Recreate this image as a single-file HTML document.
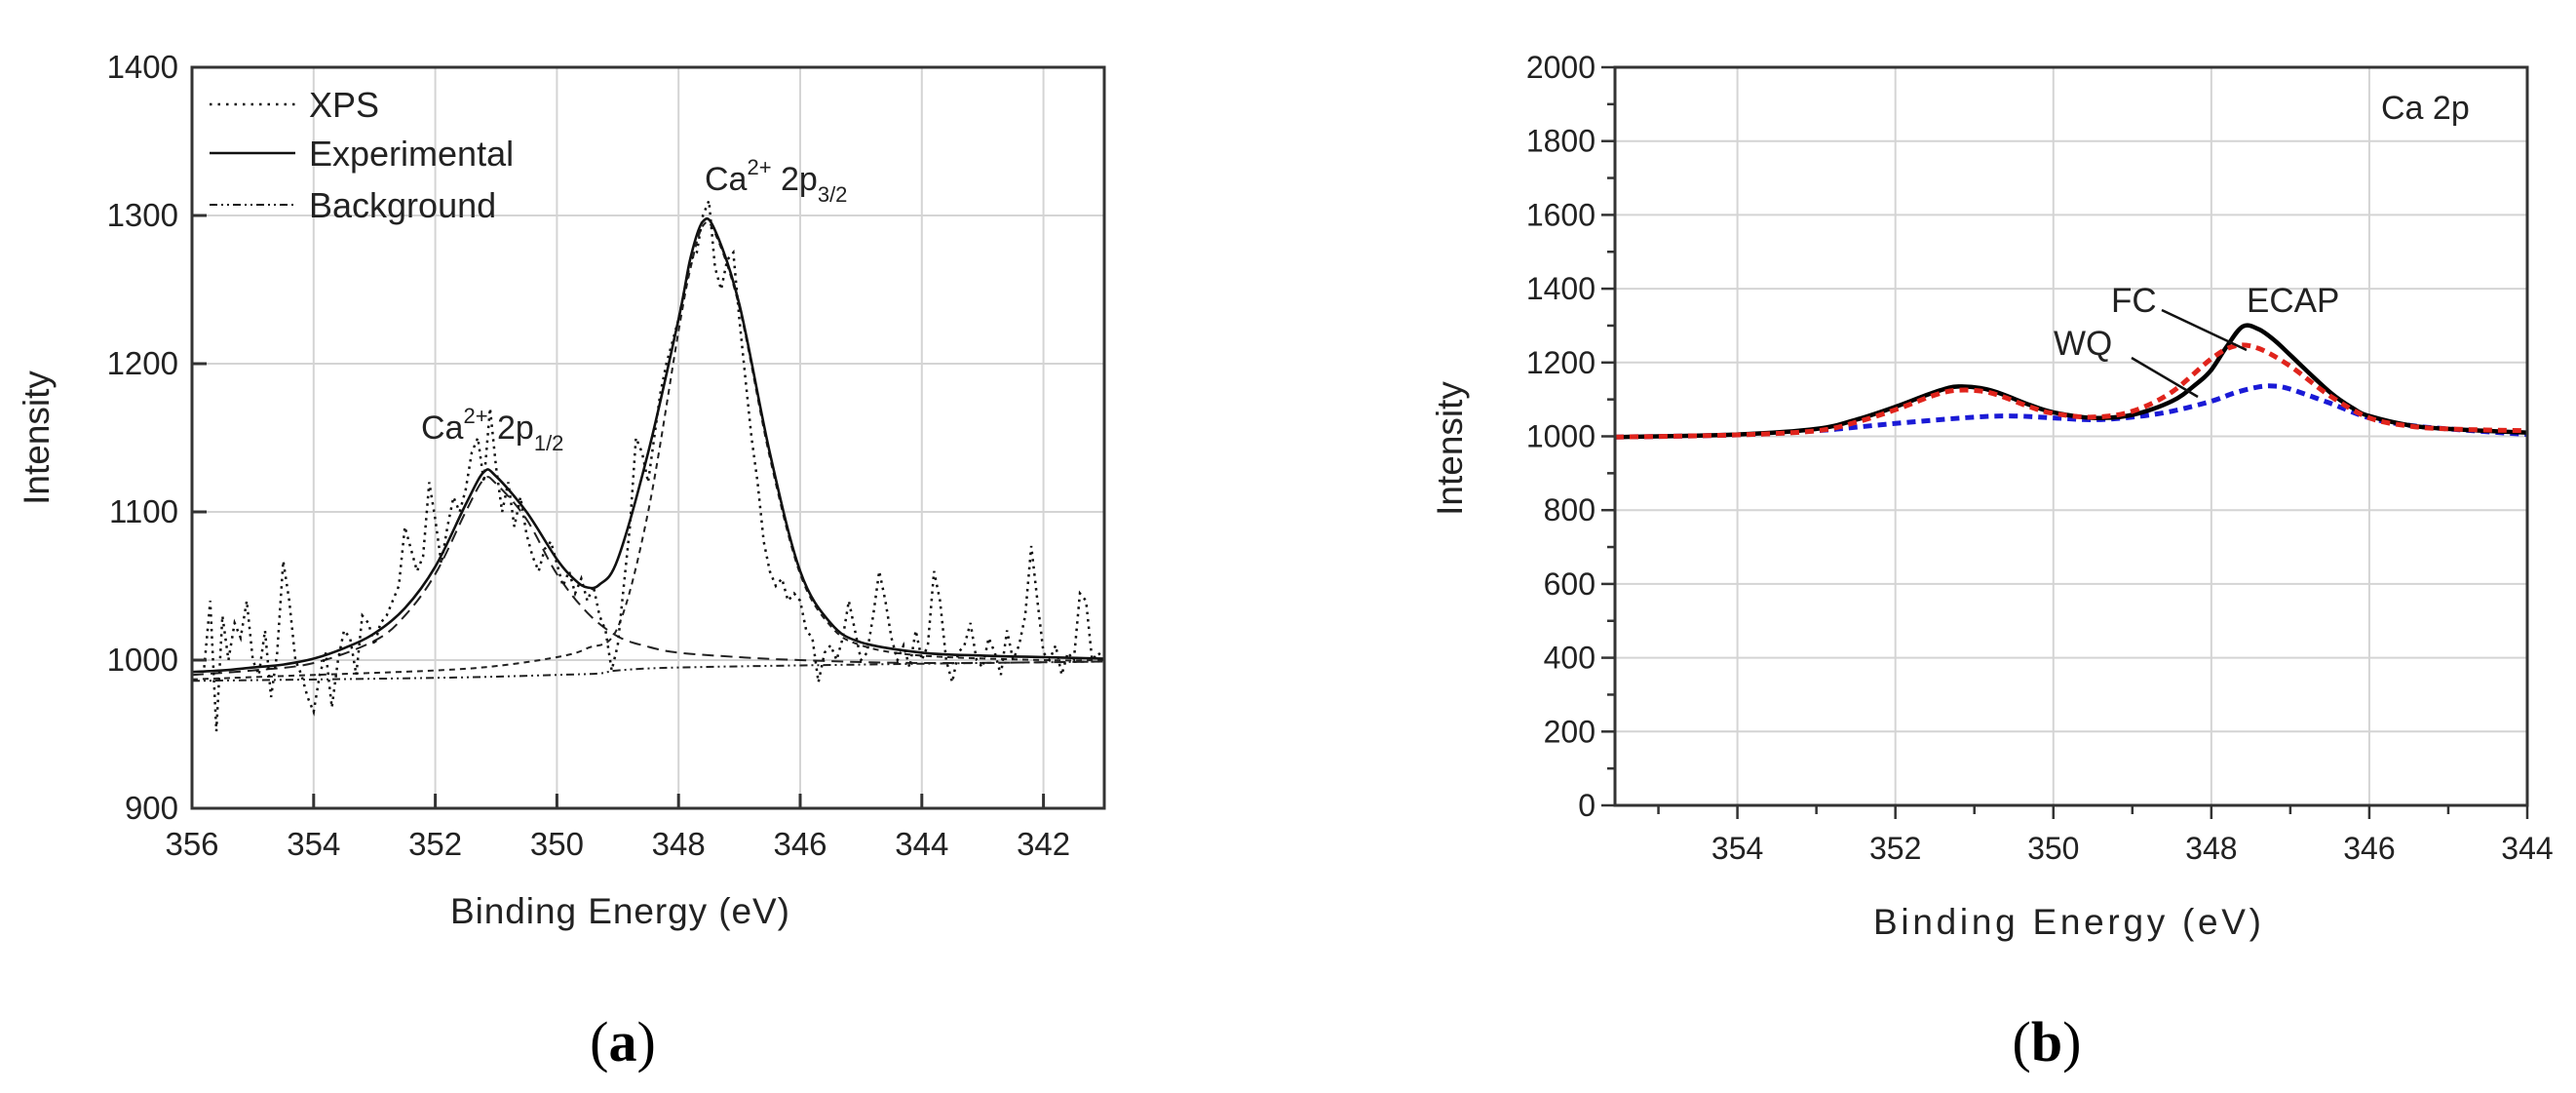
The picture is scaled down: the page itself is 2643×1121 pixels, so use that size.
<!DOCTYPE html>
<html><head><meta charset="utf-8"><style>
html,body{margin:0;padding:0;background:#fff;}
svg{display:block;font-family:"Liberation Sans",Arial,sans-serif;}
</style></head><body>
<svg id="fig" width="2643" height="1121" viewBox="0 0 2643 1121" xmlns="http://www.w3.org/2000/svg">
<g id="pa"></g>
<g id="pb"></g>
</svg>
<script>
// ---------- Panel (a) data ----------
const aXTicks = [356,354,352,350,348,346,344,342];
const aYTicks = [900,1000,1100,1200,1300,1400];
const aFitX = [356,355.5,355,354.5,354,353.5,353,352.5,352,351.5,351.2,351,350.5,350,349.7,349.5,349.3,349,348.5,348,347.8,347.6,347.4,347,346.5,346,345.5,345,344,343,342,341];
const aFitY = [992,993,995,997,1001,1008,1018,1035,1063,1105,1127,1124,1100,1068,1054,1049,1051,1068,1140,1230,1272,1296,1290,1240,1140,1060,1025,1012,1005,1003,1002,1001];
const aPk1X = [356,355,354,353,352.5,352,351.5,351.2,351,350.5,350,349.5,349,348.5,348,347,346,344,341];
const aPk1Y = [990,993,998,1013,1030,1058,1100,1122,1119,1095,1058,1032,1016,1009,1005,1002,1000,998,999];
const aPk2X = [356,354,352,351,350,349.5,349,348.5,348,347.8,347.6,347.4,347,346.5,346,345.5,345,344,342,341];
const aPk2Y = [987,990,993,996,1002,1008,1022,1100,1222,1265,1293,1288,1238,1137,1058,1023,1010,1003,1000,1000];
const aBgX = [356,352,350,349.3,349,348,345,341];
const aBgY = [986,988,990,991,993,995,997,999];
const aXpsY = [995,1040,952,1030,1000,1025,1015,1040,1000,
 990,1020,975,1005,1067,1040,1000,990,975,965,
 990,1005,968,1000,1020,1015,990,1030,1025,1010,
 1025,1030,1040,1050,1090,1075,1060,1070,1120,1095,
 1065,1090,1110,1100,1115,1140,1150,1120,1170,1130,
 1100,1120,1090,1110,1085,1070,1060,1075,1080,1065,
 1050,1060,1045,1055,1040,1050,1030,1020,993,1010,
 1050,1090,1150,1140,1120,1150,1180,1200,1215,1230,
 1250,1270,1275,1300,1310,1265,1250,1270,1275,1230,
 1190,1150,1120,1080,1060,1050,1055,1040,1045,1040,
 1020,1015,985,1005,1010,1000,1015,1040,1020,1000,
 1005,1030,1060,1040,1015,1000,1010,995,1020,1000,
 1010,1060,1040,1000,985,1005,1010,1025,1000,995,
 1015,1005,990,1020,1000,1010,1030,1077,1040,1005,
 1000,1010,990,1005,1000,1045,1040,1000,1005,1000];
const aXpsStart = 355.8, aXpsStep = 0.1;

// ---------- Panel (b) data ----------
const bXTicks = [354,352,350,348,346,344];
const bYTicks = [0,200,400,600,800,1000,1200,1400,1600,1800,2000];
const bEcapX = [355.55,354,353,352.5,352,351.5,351.2,350.8,350.3,350,349.5,349,348.5,348.2,348,347.8,347.6,347.4,347.2,347,346.5,346.2,346,345.5,345,344];
const bEcapY = [998,1005,1020,1045,1080,1120,1135,1125,1085,1065,1050,1058,1095,1140,1180,1245,1298,1290,1260,1220,1120,1075,1055,1030,1020,1010];
const bFcX = [355.55,354,353,352.5,352,351.5,351.2,350.8,350.3,350,349.5,349,348.5,348,347.7,347.4,347,346.5,346,345.5,345,344];
const bFcY = [998,1004,1015,1038,1072,1112,1125,1118,1080,1062,1052,1068,1120,1210,1245,1238,1190,1110,1050,1028,1020,1015];
const bWqX = [355.55,354,353,352,351,350.5,350,349.5,349,348.5,348,347.7,347.4,347.2,347,346.5,346,345.5,345,344];
const bWqY = [998,1004,1015,1035,1052,1055,1050,1045,1052,1068,1095,1118,1134,1136,1128,1090,1050,1030,1020,1005];

// ---------- helpers ----------
const NS = "http://www.w3.org/2000/svg";
function mk(tag, attrs, parent){const e=document.createElementNS(NS,tag);for(const k in attrs)e.setAttribute(k,attrs[k]);parent.appendChild(e);return e;}
function smooth(pts){
  let d="M"+pts[0][0].toFixed(1)+","+pts[0][1].toFixed(1);
  for(let i=0;i<pts.length-1;i++){
    const p0=pts[i-1]||pts[i],p1=pts[i],p2=pts[i+1],p3=pts[i+2]||p2;
    const c1=[p1[0]+(p2[0]-p0[0])/6,p1[1]+(p2[1]-p0[1])/6];
    const c2=[p2[0]-(p3[0]-p1[0])/6,p2[1]-(p3[1]-p1[1])/6];
    d+="C"+c1[0].toFixed(1)+","+c1[1].toFixed(1)+" "+c2[0].toFixed(1)+","+c2[1].toFixed(1)+" "+p2[0].toFixed(1)+","+p2[1].toFixed(1);
  }
  return d;
}

// ---------- Panel (a) ----------
(function(){
  const g=document.getElementById('pa');
  const L=197,R=1133,T=69,B=829, x0=356,x1=341, y0=900,y1=1400;
  const sx=v=>L+(x0-v)/(x0-x1)*(R-L);
  const sy=v=>B-(v-y0)/(y1-y0)*(B-T);
  aXTicks.forEach(t=>{
    const l=mk('line',{x1:sx(t),x2:sx(t),y1:T,y2:B,stroke:'#d4d4d4','stroke-width':2},g);
    
    
  });
  aYTicks.forEach(t=>{
    const l=mk('line',{x1:L,x2:R,y1:sy(t),y2:sy(t),stroke:'#d4d4d4','stroke-width':2},g);
    
    
  });
  const bg=mk('path',{d:smooth(aBgX.map((x,i)=>[sx(x),sy(aBgY[i])])),fill:'none',stroke:'#222','stroke-width':2,'stroke-dasharray':'8 4 2 4 2 4'},g);
  
  
  const p1=mk('path',{d:smooth(aPk1X.map((x,i)=>[sx(x),sy(aPk1Y[i])])),fill:'none',stroke:'#222','stroke-width':2,'stroke-dasharray':'12 7'},g);
  
  
  const p2=mk('path',{d:smooth(aPk2X.map((x,i)=>[sx(x),sy(aPk2Y[i])])),fill:'none',stroke:'#222','stroke-width':2,'stroke-dasharray':'6 5'},g);
  
  
  const xpsPts=aXpsY.map((v,i)=>[sx(aXpsStart-i*aXpsStep),sy(v)]);
  const xps=mk('polyline',{points:xpsPts.map(p=>p[0].toFixed(1)+","+p[1].toFixed(1)).join(" "),fill:'none',stroke:'#111','stroke-width':2.5,'stroke-dasharray':'2.5 5'},g);
  
  
  const fit=mk('path',{d:smooth(aFitX.map((x,i)=>[sx(x),sy(aFitY[i])])),fill:'none',stroke:'#111','stroke-width':2.6},g);
  
  
  const fr=mk('rect',{x:L,y:T,width:R-L,height:B-T,fill:'none',stroke:'#333','stroke-width':3},g);
  
  
  aXTicks.forEach(t=>{
    const tk=mk('line',{x1:sx(t),x2:sx(t),y1:B,y2:B-15,stroke:'#333','stroke-width':3},g);
    
    
    const tx=mk('text',{x:sx(t),y:877,'font-size':33,'text-anchor':'middle',fill:'#222'},g);
    tx.textContent=t;
    
    
  });
  aYTicks.forEach(t=>{
    const tk=mk('line',{x1:L,x2:L+15,y1:sy(t),y2:sy(t),stroke:'#333','stroke-width':3},g);
    
    
    const tx=mk('text',{x:L-14,y:sy(t)+11,'font-size':33,'text-anchor':'end',fill:'#222'},g);
    tx.textContent=t;
    
    
  });
})();

// ---------- Panel (b) ----------
(function(){
  const g=document.getElementById('pb');
  const L=1657,R=2593,T=69,B=826, x0=355.55,x1=344, y0=0,y1=2000;
  const sx=v=>L+(x0-v)/(x0-x1)*(R-L);
  const sy=v=>B-(v-y0)/(y1-y0)*(B-T);
  bXTicks.forEach(t=>{
    const l=mk('line',{x1:sx(t),x2:sx(t),y1:T,y2:B,stroke:'#d4d4d4','stroke-width':2},g);
    
    
  });
  bYTicks.forEach(t=>{
    const l=mk('line',{x1:L,x2:R,y1:sy(t),y2:sy(t),stroke:'#d4d4d4','stroke-width':2},g);
    
    
  });
  const wq=mk('path',{d:smooth(bWqX.map((x,i)=>[sx(x),sy(bWqY[i])])),fill:'none',stroke:'#1a1ad6','stroke-width':5,'stroke-dasharray':'9 6'},g);
  
  
  const ec=mk('path',{d:smooth(bEcapX.map((x,i)=>[sx(x),sy(bEcapY[i])])),fill:'none',stroke:'#000','stroke-width':4.5},g);
  
  
  const fc=mk('path',{d:smooth(bFcX.map((x,i)=>[sx(x),sy(bFcY[i])])),fill:'none',stroke:'#e0241c','stroke-width':5,'stroke-dasharray':'9 6'},g);
  
  
  const fr=mk('rect',{x:L,y:T,width:R-L,height:B-T,fill:'none',stroke:'#333','stroke-width':3},g);
  
  
  for(let v=355;v>=344;v--){
    const major=(v%2===0);
    const tk=mk('line',{x1:sx(v),x2:sx(v),y1:B,y2:B+(major?14:9),stroke:'#333','stroke-width':2.5},g);
    
    
  }
  bXTicks.forEach(t=>{
    const tx=mk('text',{x:sx(t),y:881,'font-size':32,'text-anchor':'middle',fill:'#222'},g);
    tx.textContent=t;
    
    
  });
  for(let v=0;v<=2000;v+=100){
    const major=(v%200===0);
    const tk=mk('line',{x1:L,x2:L-(major?14:8),y1:sy(v),y2:sy(v),stroke:'#333','stroke-width':2.5},g);
    
    
  }
  bYTicks.forEach(t=>{
    const tx=mk('text',{x:L-20,y:sy(t)+11,'font-size':32,'text-anchor':'end',fill:'#222'},g);
    tx.textContent=t;
    
    
  });
})();
</script>
<svg width="2643" height="1121" viewBox="0 0 2643 1121" xmlns="http://www.w3.org/2000/svg" style="position:absolute;left:0;top:0;font-family:'Liberation Sans',Arial,sans-serif;">
  <g>
    <line x1="215" y1="107" x2="303" y2="107" stroke="#111" stroke-width="2.5" stroke-dasharray="2.5 6"/>
    <text x="317" y="120" font-size="36" fill="#222">XPS</text>
    <line x1="215" y1="157" x2="303" y2="157" stroke="#111" stroke-width="2.6"/>
    <text x="317" y="170" font-size="36" fill="#222">Experimental</text>
    <line x1="215" y1="210" x2="303" y2="210" stroke="#111" stroke-width="2" stroke-dasharray="8 4 2 4 2 4"/>
    <text x="317" y="223" font-size="36" fill="#222">Background</text>
  </g>
  <text x="723" y="195" font-size="34" fill="#222">Ca<tspan dy="-16" font-size="22">2+</tspan><tspan dy="16"> 2p</tspan><tspan dy="12" font-size="22">3/2</tspan></text>
  <text x="432" y="450" font-size="34" fill="#222">Ca<tspan dy="-16" font-size="22">2+</tspan><tspan dy="16"> 2p</tspan><tspan dy="12" font-size="22">1/2</tspan></text>
  <text x="636" y="947" font-size="37" text-anchor="middle" fill="#222" textLength="348">Binding Energy (eV)</text>
  <text transform="translate(50,449) rotate(-90)" font-size="37" text-anchor="middle" fill="#222">Intensity</text>
  <text x="639" y="1088" font-size="58" text-anchor="middle" fill="#000" font-family="'Liberation Serif',serif">(<tspan font-weight="bold">a</tspan>)</text>
  <text x="2443" y="122" font-size="34" fill="#222">Ca 2p</text>
  <text x="2305" y="320" font-size="35" fill="#222">ECAP</text>
  <text x="2166" y="320" font-size="35" fill="#222">FC</text>
  <text x="2107" y="364" font-size="35" fill="#222">WQ</text>
  <line x1="2218" y1="318" x2="2305" y2="359" stroke="#111" stroke-width="2.5"/>
  <line x1="2187" y1="367" x2="2255" y2="407" stroke="#111" stroke-width="2.5"/>
  <text x="2121" y="958" font-size="37" text-anchor="middle" fill="#222" textLength="398">Binding Energy (eV)</text>
  <text transform="translate(1500,460) rotate(-90)" font-size="37" text-anchor="middle" fill="#222">Intensity</text>
  <text x="2100" y="1088" font-size="58" text-anchor="middle" fill="#000" font-family="'Liberation Serif',serif">(<tspan font-weight="bold">b</tspan>)</text>
</svg>
</body></html>
